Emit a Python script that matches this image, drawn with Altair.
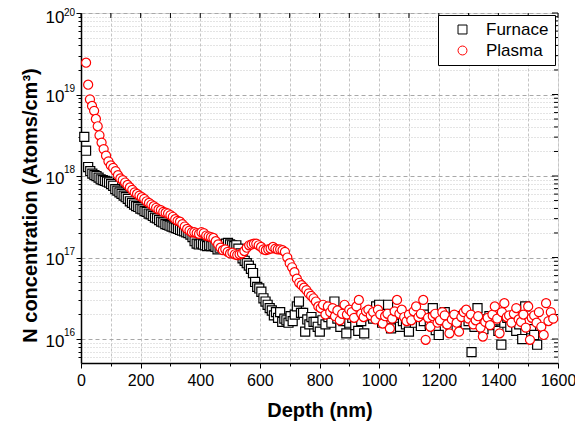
import altair as alt
import pandas as pd

# ---------------- data ----------------
series_names = ["Furnace", "Plasma"]
series_shapes = ["square", "circle"]
series_colors = ["#000000", "#ff0000"]

furnace_depth = [
    11, 17, 24, 31, 38, 45, 52, 59, 66, 73,
    80, 87, 94, 101, 108, 115, 122, 129, 136, 143,
    150, 157, 164, 171, 178, 185, 192, 199, 206, 213,
    220, 227, 234, 241, 248, 255, 262, 269, 276, 283,
    290, 297, 304, 311, 318, 325, 332, 339, 346, 353,
    360, 367, 374, 381, 388, 395, 402, 409, 416, 423,
    430, 437, 444, 451, 458, 465, 472, 479, 486, 493,
    500, 507, 514, 521, 528, 535, 542, 549, 556, 563,
    570, 577, 584, 591, 598, 605, 612, 619, 626, 633,
    640, 647, 654, 661, 668, 675, 682, 689, 696, 703,
    710, 717, 724, 731, 738, 745, 752, 759, 766, 773,
    780, 787, 794, 801, 810, 820, 830, 840, 850, 860,
    870, 880, 890, 900, 910, 920, 930, 940, 950, 960,
    970, 980, 990, 1000, 1010, 1020, 1030, 1040, 1050, 1060,
    1070, 1080, 1090, 1100, 1110, 1120, 1130, 1140, 1150, 1160,
    1170, 1180, 1190, 1200, 1210, 1220, 1230, 1240, 1250, 1260,
    1270, 1280, 1290, 1300, 1310, 1320, 1330, 1340, 1350, 1360,
    1370, 1380, 1390, 1400, 1410, 1420, 1430, 1440, 1450, 1460,
    1470, 1480, 1490, 1500, 1510, 1520, 1530,
]
# log10 of N concentration (atoms/cm^3)
furnace_log10 = [
    18.48, 18.31, 18.11, 18.06, 18.03, 18.01, 18.00, 17.98, 17.96, 17.95,
    17.94, 17.93, 17.92, 17.90, 17.88, 17.84, 17.82, 17.80, 17.78, 17.76,
    17.74, 17.72, 17.69, 17.67, 17.65, 17.63, 17.62, 17.60, 17.59, 17.57,
    17.56, 17.54, 17.53, 17.51, 17.49, 17.48, 17.46, 17.44, 17.43, 17.41,
    17.40, 17.39, 17.38, 17.37, 17.36, 17.35, 17.34, 17.33, 17.32, 17.31,
    17.30, 17.28, 17.25, 17.20, 17.17, 17.16, 17.17, 17.16, 17.15, 17.14,
    17.15, 17.14, 17.15, 17.13, 17.10, 17.12, 17.14, 17.16, 17.17, 17.18,
    17.16, 17.15, 17.14, 17.15, 17.11, 17.05, 16.99, 16.96, 16.93, 16.90,
    16.86, 16.81, 16.70, 16.64, 16.62, 16.58, 16.50, 16.46, 16.42, 16.38,
    16.35, 16.29, 16.33, 16.26, 16.33, 16.21, 16.25, 16.23, 16.20, 16.28,
    16.22, 16.30, 16.40, 16.46, 16.32, 16.32, 16.09, 16.24, 16.18, 16.27,
    16.21, 16.21, 16.15, 16.09, 16.23, 16.18, 16.27, 16.20, 16.46, 16.25,
    16.15, 16.22, 16.07, 16.20, 16.26, 16.17, 16.10, 16.22, 16.07, 16.28,
    16.32, 16.25, 16.40, 16.42, 16.20, 16.28, 16.42, 16.13, 16.25, 16.30,
    16.15, 16.22, 16.18, 16.09, 16.24, 16.20, 16.28, 16.16, 16.22, 16.30,
    16.19, 16.38, 16.11, 16.05, 16.24, 16.33, 16.20, 16.17, 16.26, 16.13,
    16.21, 16.28, 16.18, 16.22, 15.84, 16.15, 16.38, 16.24, 16.12, 16.20,
    16.28, 16.17, 16.23, 16.10, 15.93, 16.20, 16.26, 16.15, 16.21, 16.10,
    16.18, 16.00, 16.40, 16.22, 16.12, 16.05, 15.93,
]

plasma_depth = [
    17, 24, 30, 37, 44, 50, 56, 62, 69, 76,
    84, 92, 100, 108, 116, 124, 132, 140, 148, 156,
    164, 172, 180, 188, 196, 204, 212, 220, 228, 236,
    244, 252, 260, 268, 276, 284, 292, 300, 308, 316,
    324, 332, 340, 348, 356, 364, 372, 380, 388, 396,
    404, 412, 420, 428, 436, 444, 452, 460, 468, 476,
    484, 492, 500, 508, 516, 524, 532, 540, 548, 556,
    564, 572, 580, 588, 596, 604, 612, 620, 628, 636,
    644, 652, 660, 668, 676, 684, 692, 700, 708, 716,
    724, 732, 740, 748, 756, 764, 772, 780, 788, 796,
    804, 812, 820, 828, 836, 844, 852, 860, 868, 876,
    884, 892, 900, 908, 916, 924, 932, 940, 948, 956,
    964, 972, 980, 988, 996, 1004, 1012, 1020, 1028, 1036,
    1044, 1052, 1060, 1068, 1076, 1084, 1092, 1100, 1108, 1116,
    1124, 1132, 1140, 1148, 1156, 1164, 1172, 1180, 1188, 1196,
    1204, 1212, 1220, 1228, 1236, 1244, 1252, 1260, 1268, 1276,
    1284, 1292, 1300, 1308, 1316, 1324, 1332, 1340, 1348, 1356,
    1364, 1372, 1380, 1388, 1396, 1404, 1412, 1420, 1428, 1436,
    1444, 1452, 1460, 1468, 1476, 1484, 1492, 1500, 1506, 1512,
    1520, 1528, 1536, 1544, 1552, 1560, 1568, 1576, 1584,
]
plasma_log10 = [
    19.39, 19.12, 18.94, 18.86, 18.80, 18.70, 18.61, 18.50, 18.41, 18.33,
    18.25, 18.18, 18.13, 18.10, 18.06, 18.01, 17.97, 17.95, 17.92, 17.89,
    17.86, 17.83, 17.80, 17.78, 17.76, 17.74, 17.72, 17.69, 17.67, 17.65,
    17.63, 17.61, 17.59, 17.58, 17.56, 17.55, 17.54, 17.52, 17.50, 17.47,
    17.45, 17.44, 17.41, 17.38, 17.35, 17.33, 17.31, 17.31, 17.30, 17.29,
    17.31, 17.30, 17.27, 17.26, 17.25, 17.24, 17.20, 17.16, 17.12, 17.09,
    17.10, 17.07, 17.05, 17.06, 17.04, 17.03, 17.04, 17.05, 17.08, 17.12,
    17.15, 17.16, 17.17, 17.17, 17.15, 17.13, 17.10, 17.09, 17.10, 17.11,
    17.13, 17.11, 17.10, 17.10, 17.09, 17.07, 17.00, 16.93, 16.88, 16.82,
    16.74, 16.69, 16.66, 16.63, 16.60, 16.56, 16.53, 16.50, 16.46, 16.40,
    16.38, 16.42, 16.30, 16.40, 16.33, 16.38, 16.28, 16.35, 16.23, 16.31,
    16.42, 16.30, 16.36, 16.33, 16.26, 16.40, 16.48, 16.31, 16.27, 16.34,
    16.36, 16.29, 16.33, 16.24, 16.36, 16.30, 16.19, 16.28, 16.31, 16.13,
    16.25, 16.34, 16.48, 16.31, 16.36, 16.27, 16.22, 16.30, 16.23, 16.34,
    16.40, 16.27, 16.31, 16.48, 15.99, 16.26, 16.15, 16.28, 16.31, 16.20,
    16.23, 16.33, 16.29, 16.18, 16.07, 16.24, 16.30, 16.20, 16.09, 16.27,
    16.33, 16.36, 16.25, 16.30, 16.18, 16.23, 16.28, 16.14, 16.03, 16.21,
    16.26, 16.17, 16.30, 16.40, 16.25, 16.07, 16.33, 16.44, 16.27, 16.29,
    16.20, 16.31, 16.38, 16.24, 16.21, 16.30, 16.14, 16.40, 15.99, 16.26,
    16.29, 16.20, 16.33, 16.15, 16.05, 16.44, 16.22, 16.33, 16.25,
]

# tick positions / labels
x_ticks = list(range(0, 1601, 100))
decade_exponents = [16, 17, 18, 19, 20]
decade_labels = ["16", "17", "18", "19", "20"]

assert len(furnace_depth) == len(furnace_log10)
assert len(plasma_depth) == len(plasma_log10)

# ---------------- tables ----------------
df = pd.DataFrame({
    "depth": furnace_depth + plasma_depth,
    "conc": [10.0 ** v for v in furnace_log10 + plasma_log10],
    "sample": [series_names[0]] * len(furnace_depth) + [series_names[1]] * len(plasma_depth),
})

y_minor = [m * 10.0 ** e for e in range(15, 20) for m in range(2, 10) if m * 10.0 ** e > 5.5e15]
y_major = [10.0 ** e for e in decade_exponents]
y_ticks = sorted(y_minor + y_major)

dec_df = pd.DataFrame({"v": y_major, "lab": decade_labels})
minor_df = pd.DataFrame({"v": y_minor})
xt_df = pd.DataFrame({"x": x_ticks})

W, H = 477, 350
FONT = "Liberation Sans"

x_scale = alt.Scale(domain=[0, 1600], nice=False, zero=False)
y_scale = alt.Scale(type="log", domain=[5.08e15, 1e20], nice=False)

is_major_x = "datum.value % 200 == 0"
is_dec = "abs(log(datum.value)/LN10 - round(log(datum.value)/LN10)) < 0.001"

x_axis = alt.Axis(
    values=x_ticks, format="d",
    labelExpr=f"{is_major_x} ? datum.label : ''",
    title="Depth (nm)", titleFont=FONT, titleFontSize=20, titleFontWeight="bold",
    titleColor="black", titleX=W / 2, titleY=53, titleBaseline="alphabetic",
    labelFont=FONT, labelFontSize=16, labelColor="black", labelPadding=4,
    labelFlush=False, labelOverlap=False,
    tickSize={"condition": {"test": is_major_x, "value": 5}, "value": 3},
    tickColor="black", tickWidth=1,
    domainColor="black", domainWidth=1.5,
    grid=True, gridColor="#c4c4c4", gridDash=[3, 2], gridWidth=1,
)

y_axis = alt.Axis(
    values=y_ticks,
    labelExpr=f"{is_dec} ? '10' : ''",
    title="N concentration (Atoms/cm³)", titleFont=FONT, titleFontSize=20,
    titleFontWeight="bold", titleColor="black", titleAngle=270,
    titleX=-45, titleY=192, titleBaseline="alphabetic", titleAlign="center",
    labelFont=FONT, labelFontSize=17, labelColor="black", labelPadding=12,
    labelOffset={"condition": {"test": "datum.value > 5e19", "value": 4}, "value": 2},
    labelOverlap=False, labelFlush=False,
    tickSize={"condition": {"test": is_dec, "value": 5}, "value": 3},
    tickColor="black", tickWidth=1,
    domainColor="black", domainWidth=1.5,
    grid=True, gridWidth=1,
    gridColor={"condition": {"test": is_dec, "value": "#a8a8a8"}, "value": "#c8c8c8"},
    gridDash={"condition": {"test": is_dec, "value": [4, 3]}, "value": [1, 2]},
)

legend = alt.Legend(
    title=None, orient="none", legendX=357, legendY=2,
    padding=6, strokeColor="black", fillColor="white",
    labelFont=FONT, labelFontSize=17, labelColor="black",
    symbolSize=80, symbolStrokeWidth=1, symbolOffset=10, labelOffset=15,
    rowPadding=3,
)

points = alt.Chart(df).mark_point(
    size=82, strokeWidth=1.2, fill="white", opacity=1, filled=False
).encode(
    x=alt.X("depth:Q", scale=x_scale, axis=x_axis),
    y=alt.Y("conc:Q", scale=y_scale, axis=y_axis),
    shape=alt.Shape("sample:N", scale=alt.Scale(domain=series_names, range=series_shapes), legend=legend),
    stroke=alt.Stroke("sample:N", scale=alt.Scale(domain=series_names, range=series_colors), legend=legend),
)

# superscript exponents of the decade labels
exps = alt.Chart(dec_df).transform_filter("datum.lab != '20'").mark_text(
    align="left", baseline="middle", fontSize=10, font=FONT, color="black", dy=-6
).encode(
    y=alt.Y("v:Q", scale=y_scale, axis=y_axis),
    x=alt.value(-17),
    text="lab:N",
)
exp_top = alt.Chart(dec_df).transform_filter("datum.lab == '20'").mark_text(
    align="left", baseline="top", fontSize=10, font=FONT, color="black", dy=-5
).encode(
    y=alt.Y("v:Q", scale=y_scale, axis=y_axis),
    x=alt.value(-17),
    text="lab:N",
)

top_ticks = alt.Chart(xt_df).mark_rule(color="black", strokeWidth=1).encode(
    x=alt.X("x:Q", scale=x_scale, axis=x_axis),
    y=alt.value(0), y2=alt.value(5),
)

right_major = alt.Chart(dec_df).mark_rule(color="black", strokeWidth=1).encode(
    y=alt.Y("v:Q", scale=y_scale, axis=y_axis),
    x=alt.value(W - 6), x2=alt.value(W),
)
right_minor = alt.Chart(minor_df).mark_rule(color="black", strokeWidth=1).encode(
    y=alt.Y("v:Q", scale=y_scale, axis=y_axis),
    x=alt.value(W - 4), x2=alt.value(W),
)

chart = alt.layer(top_ticks, right_major, right_minor, points, exps, exp_top).properties(
    width=W, height=H,
    autosize=alt.AutoSizeParams(type="none"),
    padding={"left": 73, "top": 5, "right": 17, "bottom": 60},
    background="white",
).configure_view(stroke="black", strokeWidth=1.5).configure(font=FONT)

chart.save("out.html", embed_options={"renderer": "svg", "actions": False})
